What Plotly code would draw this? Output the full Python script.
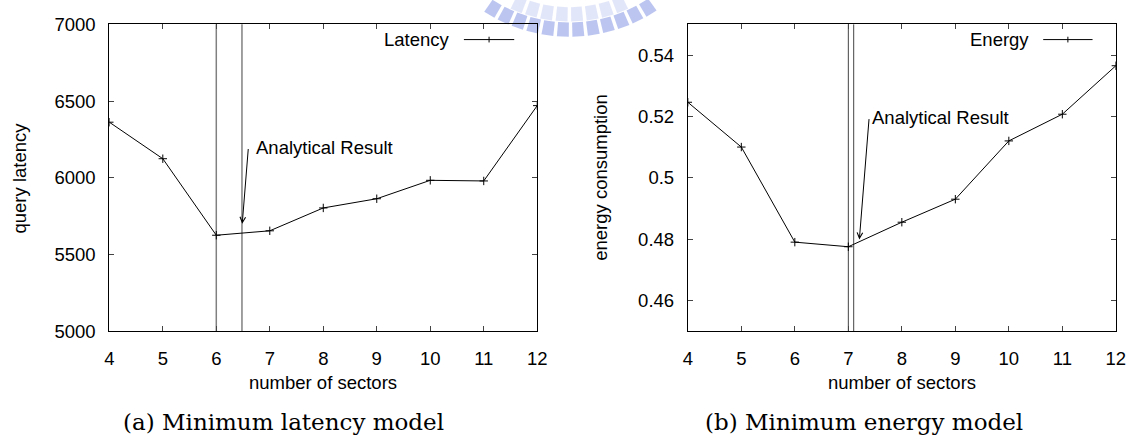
import math
import plotly.graph_objects as go

W, H = 1144, 444

# ---------------- data ----------------
sectors = [4, 5, 6, 7, 8, 9, 10, 11, 12]
latency = [6362, 6124, 5625, 5654, 5803, 5863, 5983, 5979, 6470]
energy = [0.5246, 0.5100, 0.4790, 0.4775, 0.4855, 0.4930, 0.5120, 0.5207, 0.5365]

latency_vlines = [6.0, 6.48]
energy_vlines = [7.0, 7.1]
latency_range = [5000, 7000]
energy_range = [0.45, 0.55]
latency_ticks = [5000, 5500, 6000, 6500, 7000]
energy_ticks = [0.46, 0.48, 0.50, 0.52, 0.54]
energy_ticktext = ["0.46", "0.48", "0.5", "0.52", "0.54"]
x_ticks = list(range(4, 13))

# analytical-result arrows: (tail x, tail y, head x, head y)
lat_arrow = (6.60, 6197, 6.485, 5700)
en_arrow = (7.389, 0.5196, 7.206, 0.4799)

SANS = "Liberation Sans, Arial, sans-serif"
SERIF = "DejaVu Serif, serif"
FS = 18.5


def px(x):
    return x / W


def py(y):
    return 1 - y / H


fig = go.Figure()

fig.add_trace(go.Scatter(
    x=sectors, y=latency, mode="lines+markers", xaxis="x", yaxis="y",
    line=dict(color="black", width=1),
    marker=dict(symbol="cross-thin", size=6, line=dict(color="black", width=1)),
    showlegend=False, hoverinfo="skip"))
fig.add_trace(go.Scatter(
    x=sectors, y=energy, mode="lines+markers", xaxis="x2", yaxis="y2",
    line=dict(color="black", width=1),
    marker=dict(symbol="cross-thin", size=6, line=dict(color="black", width=1)),
    showlegend=False, hoverinfo="skip"))

dom_y = [py(336), py(14)]
axis_common = dict(
    showgrid=False, zeroline=False, showline=True, linecolor="black", linewidth=1,
    ticks="inside", ticklen=5, tickwidth=1, tickcolor="#444", mirror="ticks",
    tickfont=dict(family=SANS, size=FS, color="black"),
)

fig.update_layout(
    width=W, height=H, margin=dict(l=0, r=0, t=0, b=0),
    paper_bgcolor="white", plot_bgcolor="white",
    xaxis=dict(domain=[px(105.7), px(539.3)], range=[4, 12], tickvals=x_ticks,
               anchor="y", ticklabelstandoff=11, **axis_common),
    yaxis=dict(domain=dom_y, range=latency_range, tickvals=latency_ticks,
               anchor="x", ticklabelstandoff=9, **axis_common),
    xaxis2=dict(domain=[px(691.9), px(1125.6)], range=[4, 12], tickvals=x_ticks,
                anchor="y2", ticklabelstandoff=11, **axis_common),
    yaxis2=dict(domain=dom_y, range=energy_range, tickvals=energy_ticks,
                ticktext=energy_ticktext, anchor="x2", ticklabelstandoff=9, **axis_common),
)

shapes = []
for v in latency_vlines:
    shapes.append(dict(type="line", xref="x", yref="y domain", x0=v, x1=v, y0=0, y1=1,
                       line=dict(color="#808080", width=1.5), layer="below"))
for v in energy_vlines:
    shapes.append(dict(type="line", xref="x2", yref="y2 domain", x0=v, x1=v, y0=0, y1=1,
                       line=dict(color="#444444", width=1), layer="below"))

# legend keys (line sample with a + in the middle)
for (x0, x1, yc) in [(465, 516, 30), (1052, 1102, 30)]:
    shapes.append(dict(type="line", xref="paper", yref="paper", x0=px(x0), x1=px(x1),
                       y0=py(yc), y1=py(yc), line=dict(color="black", width=1)))
    xm = (x0 + x1) / 2
    shapes.append(dict(type="line", xref="paper", yref="paper", x0=px(xm), x1=px(xm),
                       y0=py(yc - 3), y1=py(yc + 3), line=dict(color="black", width=1)))

# watermark (decorative arch of blue bricks, top centre)
cx, cy = 572, -128
for (r0, r1, col) in [(140, 155, "rgba(120,140,225,0.5)"), (124, 139, "rgba(160,172,235,0.3)")]:
    rm = (r0 + r1) / 2
    step_len = 15.0
    a = math.radians(32)
    while a < math.radians(148):
        da = 11.5 / rm
        a0, a1 = a, a + da
        pts = [(cx + r0 * math.cos(a0), cy + r0 * math.sin(a0)),
               (cx + r1 * math.cos(a0), cy + r1 * math.sin(a0)),
               (cx + r1 * math.cos(a1), cy + r1 * math.sin(a1)),
               (cx + r0 * math.cos(a1), cy + r0 * math.sin(a1))]
        if max(p[1] for p in pts) > 0:
            path = "M " + " L ".join(f"{px(p[0]):.5f},{py(p[1]):.5f}" for p in pts) + " Z"
            shapes.append(dict(type="path", xref="paper", yref="paper", path=path,
                               fillcolor=col, line=dict(width=0), layer="below"))
        a += step_len / rm

fig.update_layout(shapes=shapes)

ann = []
# arrows
for (tx, ty, hx, hy), xr, yr in [(lat_arrow, "x", "y"), (en_arrow, "x2", "y2")]:
    ann.append(dict(x=hx, y=hy, ax=tx, ay=ty, xref=xr, yref=yr, axref=xr, ayref=yr,
                    text="", showarrow=True, arrowhead=5, arrowsize=1.1, arrowwidth=1,
                    arrowcolor="black", standoff=0, startstandoff=0))
# arrow labels
ann.append(dict(x=6.70, y=6197, xref="x", yref="y", text="Analytical Result", showarrow=False,
                xanchor="left", yanchor="middle", font=dict(family=SANS, size=FS, color="black")))
ann.append(dict(x=7.41, y=0.5196, xref="x2", yref="y2", text="Analytical Result", showarrow=False,
                xanchor="left", yanchor="middle", font=dict(family=SANS, size=FS, color="black")))
# legend texts
ann.append(dict(x=px(453), y=py(30), xref="paper", yref="paper", text="Latency", showarrow=False,
                xanchor="right", yanchor="middle", font=dict(family=SANS, size=FS, color="black")))
ann.append(dict(x=px(1040), y=py(30), xref="paper", yref="paper", text="Energy", showarrow=False,
                xanchor="right", yanchor="middle", font=dict(family=SANS, size=FS, color="black")))
# axis titles
ann.append(dict(x=px(322.5), y=py(390), xref="paper", yref="paper", text="number of sectors",
                showarrow=False, xanchor="center", yanchor="middle",
                font=dict(family=SANS, size=FS, color="black")))
ann.append(dict(x=px(908.7), y=py(390), xref="paper", yref="paper", text="number of sectors",
                showarrow=False, xanchor="center", yanchor="middle",
                font=dict(family=SANS, size=FS, color="black")))
ann.append(dict(x=px(15), y=py(175), xref="paper", yref="paper", text="query latency",
                showarrow=False, xanchor="center", yanchor="middle", textangle=-90,
                font=dict(family=SANS, size=FS, color="black")))
ann.append(dict(x=px(604), y=py(175), xref="paper", yref="paper", text="energy consumption",
                showarrow=False, xanchor="center", yanchor="middle", textangle=-90,
                font=dict(family=SANS, size=FS, color="black")))
# captions
ann.append(dict(x=px(282), y=py(431), xref="paper", yref="paper", text="(a) Minimum latency model",
                showarrow=False, xanchor="center", yanchor="middle",
                font=dict(family=SERIF, size=23, color="black")))
ann.append(dict(x=px(870.7), y=py(431), xref="paper", yref="paper", text="(b) Minimum energy model",
                showarrow=False, xanchor="center", yanchor="middle",
                font=dict(family=SERIF, size=23, color="black")))

fig.update_layout(annotations=ann)

fig.write_html("out.html")
